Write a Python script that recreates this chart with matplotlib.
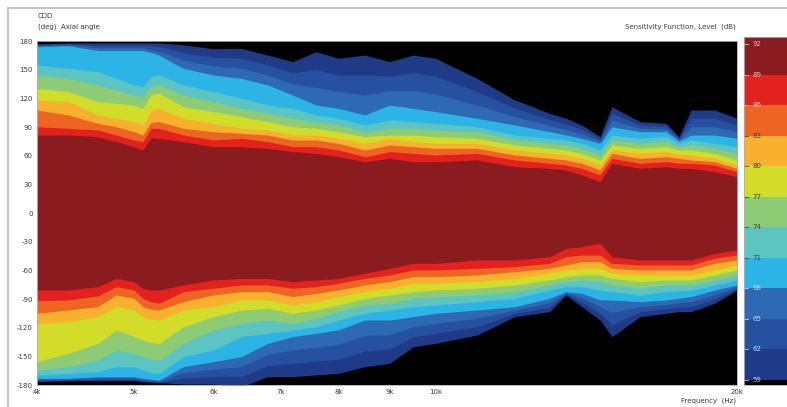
import matplotlib
matplotlib.use("Agg")
import matplotlib.pyplot as plt
import numpy as np
from matplotlib.colors import ListedColormap, BoundaryNorm
from matplotlib.colorbar import ColorbarBase
from matplotlib.lines import Line2D
from matplotlib.ticker import NullLocator
from matplotlib.transforms import blended_transform_factory

# Frequencies (Hz) at which the contour edges were read
FREQ_HZ = [4000, 4300, 4600, 4800, 5000, 5100, 5200, 5300, 5600, 6000, 6400,
           6800, 7200, 7600, 8000, 8500, 9000, 9500, 10000, 11000, 12000,
           13000, 13500, 14000, 14600, 15000, 16000, 17000, 17500, 18000,
           19000, 20000]

# Level (dB) of each contour edge, innermost first
EDGE_DB = [89, 86, 83, 80, 77, 74, 71, 68, 65, 62, 59]

# Positive-angle edge (deg) of each level, one row per frequency
UPPER_DEG = [
    [81.6, 90.3, 107.8, 118.3, 130.5, 144.4, 154.9, 174.0, 175.0, 176.0, 177.0],
    [81.6, 88.6, 102.6, 116.5, 127.0, 140.9, 151.4, 175.0, 176.0, 177.0, 178.0],
    [79.9, 86.9, 93.8, 102.6, 116.5, 134.0, 147.9, 170.0, 173.0, 175.0, 178.0],
    [74.7, 81.6, 90.3, 99.1, 114.8, 128.7, 140.9, 170.0, 173.0, 175.0, 178.0],
    [69.4, 76.4, 85.1, 95.6, 113.0, 123.5, 134.0, 170.0, 173.0, 175.0, 178.0],
    [65.9, 74.7, 81.6, 92.1, 109.5, 121.7, 132.2, 170.0, 173.0, 175.0, 178.0],
    [78.8, 88.6, 94.9, 107.8, 123.5, 132.2, 142.7, 168.0, 171.0, 175.0, 178.0],
    [78.1, 88.6, 95.6, 109.5, 125.2, 134.0, 144.4, 165.0, 169.0, 174.0, 178.0],
    [74.7, 81.6, 88.6, 99.1, 111.3, 123.5, 134.0, 151.4, 160.0, 168.0, 176.0],
    [69.4, 76.4, 85.1, 93.8, 106.1, 116.5, 127.0, 144.4, 154.0, 163.0, 172.0],
    [69.4, 78.1, 83.4, 88.6, 100.8, 109.5, 120.0, 140.9, 151.4, 161.8, 172.3],
    [67.7, 74.7, 81.6, 86.9, 95.6, 104.3, 113.0, 134.0, 144.4, 154.9, 165.3],
    [64.2, 69.4, 76.4, 81.6, 90.3, 99.1, 109.5, 123.5, 135.1, 146.8, 158.4],
    [62.4, 69.4, 76.4, 81.6, 88.6, 95.6, 102.6, 113.0, 131.6, 150.2, 168.8],
    [58.9, 65.9, 72.9, 78.1, 85.1, 92.1, 99.1, 109.5, 127.0, 144.4, 161.9],
    [53.7, 58.9, 65.9, 72.9, 79.9, 85.1, 92.1, 102.6, 123.5, 144.4, 165.3],
    [57.2, 64.2, 71.2, 78.1, 81.6, 88.6, 97.3, 113.0, 128.1, 143.3, 158.4],
    [53.7, 62.4, 69.4, 74.7, 81.6, 88.6, 95.6, 109.5, 128.1, 146.7, 165.3],
    [53.7, 60.7, 67.7, 72.9, 79.9, 86.9, 93.8, 106.1, 124.7, 143.3, 161.9],
    [55.5, 62.4, 67.7, 72.9, 78.1, 85.1, 90.3, 99.1, 113.0, 127.0, 140.9],
    [48.5, 55.5, 60.7, 65.9, 71.2, 76.4, 81.6, 92.1, 100.8, 109.6, 118.3],
    [46.7, 52.0, 57.2, 62.4, 67.7, 72.9, 78.1, 85.1, 91.5, 97.9, 104.3],
    [45.0, 50.2, 55.5, 60.7, 65.9, 71.2, 76.4, 81.6, 87.4, 93.3, 99.1],
    [39.8, 46.7, 52.0, 57.2, 62.4, 67.7, 72.9, 78.1, 82.8, 87.4, 92.1],
    [32.8, 39.8, 45.0, 50.2, 55.5, 60.7, 65.9, 72.9, 75.2, 77.6, 79.9],
    [52.0, 57.2, 62.4, 65.9, 71.2, 76.4, 81.6, 90.3, 97.3, 104.3, 111.3],
    [46.7, 52.0, 57.2, 62.4, 67.7, 72.9, 78.1, 85.1, 88.6, 92.1, 95.6],
    [48.5, 53.7, 58.9, 64.2, 69.4, 74.7, 79.9, 85.1, 88.0, 90.9, 93.8],
    [46.7, 52.0, 57.2, 61.4, 65.9, 69.4, 72.9, 75.3, 76.8, 78.4, 79.9],
    [46.7, 52.0, 55.5, 60.7, 65.9, 71.2, 76.4, 81.6, 90.3, 99.1, 107.8],
    [43.3, 50.2, 53.7, 57.2, 62.4, 67.7, 72.9, 81.6, 90.3, 99.1, 107.8],
    [38.0, 43.3, 46.7, 50.2, 55.5, 62.4, 69.4, 78.1, 85.1, 92.1, 99.1],
]

# Negative-angle edge (deg, magnitude) of each level, one row per frequency
LOWER_DEG = [
    [80.6, 91.7, 105.0, 115.5, 155.6, 164.3, 169.5, 173.0, 174.2, 175.3, 176.5],
    [80.6, 91.0, 101.5, 113.7, 146.8, 160.8, 167.8, 173.0, 173.8, 174.7, 175.5],
    [77.1, 86.9, 98.0, 108.5, 136.4, 153.8, 166.0, 171.3, 172.7, 174.1, 175.5],
    [68.4, 77.1, 85.8, 98.0, 122.4, 143.4, 160.8, 171.3, 172.7, 174.1, 175.5],
    [71.8, 80.6, 89.3, 101.5, 129.4, 146.8, 160.8, 171.3, 172.7, 174.1, 175.5],
    [78.8, 89.3, 98.0, 108.5, 132.9, 150.3, 164.3, 173.0, 174.2, 175.3, 176.5],
    [80.6, 92.8, 100.8, 111.3, 135.7, 153.1, 167.1, 174.1, 175.1, 176.2, 177.2],
    [80.6, 94.5, 101.5, 112.0, 136.4, 153.8, 167.8, 174.8, 175.7, 176.6, 177.5],
    [75.3, 82.3, 92.8, 101.5, 119.0, 136.4, 150.3, 160.8, 166.9, 172.9, 179.0],
    [70.1, 78.8, 85.8, 98.0, 108.5, 122.4, 143.4, 155.6, 163.4, 171.2, 179.0],
    [68.4, 75.3, 82.3, 91.0, 101.5, 115.5, 129.4, 150.3, 160.8, 171.2, 181.7],
    [68.4, 75.3, 82.3, 91.0, 99.8, 112.0, 125.9, 136.4, 148.0, 159.7, 171.3],
    [71.8, 78.8, 87.5, 96.3, 105.0, 115.5, 122.4, 129.4, 143.4, 157.3, 171.3],
    [70.1, 77.1, 84.1, 92.8, 101.5, 110.2, 119.0, 125.9, 140.4, 155.0, 169.5],
    [68.4, 73.6, 80.6, 87.5, 96.3, 103.2, 112.0, 122.4, 137.5, 152.7, 167.8],
    [63.1, 68.4, 75.3, 82.3, 89.3, 96.3, 105.0, 112.0, 128.3, 144.5, 160.8],
    [57.9, 64.9, 71.8, 78.8, 85.8, 94.5, 101.5, 112.0, 127.1, 142.2, 157.3],
    [52.7, 59.6, 66.6, 73.6, 82.3, 89.3, 98.0, 108.5, 119.0, 129.4, 139.9],
    [52.7, 59.6, 66.6, 73.6, 80.6, 87.5, 96.3, 105.0, 115.5, 125.9, 136.4],
    [49.2, 57.9, 64.9, 71.8, 78.8, 85.8, 92.8, 101.5, 110.2, 119.0, 127.7],
    [49.2, 56.2, 61.4, 68.4, 75.3, 82.3, 89.3, 98.0, 101.5, 105.0, 108.5],
    [45.7, 52.7, 57.9, 63.1, 70.1, 75.3, 80.6, 89.3, 93.9, 98.6, 103.2],
    [37.0, 45.7, 54.4, 59.6, 66.6, 71.8, 77.1, 82.3, 83.5, 84.6, 85.8],
    [35.2, 44.0, 51.0, 57.9, 64.9, 70.1, 77.1, 84.1, 88.7, 93.4, 98.0],
    [31.7, 44.0, 51.0, 57.9, 64.9, 71.8, 80.6, 91.0, 98.0, 105.0, 112.0],
    [45.7, 52.7, 57.9, 63.1, 68.4, 75.3, 82.3, 91.0, 103.8, 116.6, 129.4],
    [49.2, 54.4, 59.6, 64.9, 71.8, 78.8, 85.8, 92.8, 98.0, 103.3, 108.5],
    [49.2, 54.4, 59.6, 64.9, 70.1, 75.3, 82.3, 91.0, 95.7, 100.3, 105.0],
    [49.2, 54.4, 59.6, 64.9, 70.1, 75.3, 81.3, 89.3, 93.9, 98.6, 103.2],
    [49.2, 54.4, 59.6, 64.9, 70.1, 75.3, 80.6, 87.5, 92.7, 98.0, 103.2],
    [42.2, 47.4, 52.7, 59.6, 64.9, 70.1, 75.3, 80.6, 85.2, 89.9, 94.5],
    [38.7, 44.0, 49.2, 54.4, 59.6, 64.9, 70.1, 75.3, 77.1, 78.8, 80.6],
]

# Colour of the band just inside each edge (same order as EDGE_DB)
BAND_COLORS = ["#8a1b1e", "#e3221f", "#ee6523", "#f8b02f", "#d2dd2a", "#8dcb74",
               "#5cc5c2", "#2db4e6", "#2e69b3", "#2651a0", "#1f3b88"]

SCALE_TICKS = [92, 89, 86, 83, 80, 77, 74, 71, 68, 65, 62, 59]
X_TICKS = [4000, 5000, 6000, 7000, 8000, 9000, 10000, 20000]
X_LABELS = ["4k", "5k", "6k", "7k", "8k", "9k", "10k", "20k"]
Y_TICKS = list(range(-180, 181, 30))

W, H = 787, 407
TXT = "#3a3a3a"
FS = 5

fig = plt.figure(figsize=(W / 100, H / 100), dpi=100)
fig.patch.set_facecolor("white")

ax = fig.add_axes([37 / W, 22 / H, 700 / W, 344 / H])
ax.set_facecolor("black")

freq = np.array(FREQ_HZ, dtype=float)
upper = np.array(UPPER_DEG)
lower = np.array(LOWER_DEG)
# draw from the outermost band inwards so inner bands sit on top
for k in range(len(EDGE_DB) - 1, -1, -1):
    ax.fill_between(freq, -lower[:, k], upper[:, k], color=BAND_COLORS[k],
                    lw=0, antialiased=True)

ax.set_xscale("log")
ax.set_xlim(4000, 20000)
ax.set_ylim(-180, 180)
ax.set_xticks(X_TICKS)
ax.set_xticklabels(X_LABELS)
ax.xaxis.set_minor_locator(NullLocator())
ax.set_yticks(Y_TICKS)
ax.set_yticklabels([str(v) for v in Y_TICKS])
ax.tick_params(length=0, labelsize=FS, colors=TXT, pad=3)
for s in ax.spines.values():
    s.set_color("#b0b0b0")
    s.set_linewidth(0.6)

# colour scale
cax = fig.add_axes([744 / W, 22 / H, 43 / W, 348 / H])
bounds = [58.5, 59, 62, 65, 68, 71, 74, 77, 80, 83, 86, 89, 92.7]
cmap = ListedColormap(["#000000"] + BAND_COLORS[::-1])
norm = BoundaryNorm(bounds, cmap.N)
cb = ColorbarBase(cax, cmap=cmap, norm=norm, boundaries=bounds,
                  spacing="proportional", orientation="vertical")
cb.outline.set_edgecolor("#b0b0b0")
cb.outline.set_linewidth(0.6)
cax.set_yticks([])
tr = blended_transform_factory(cax.transAxes, cax.transData)
for lv in SCALE_TICKS:
    light = lv >= 86 or lv <= 68
    col = "#e6c4c4" if lv >= 86 else ("#c9d3ea" if light else "#404040")
    cax.plot([0.0, 0.1], [lv, lv], transform=tr, color=col, lw=0.6)
    cax.text(0.2, lv, str(lv), transform=tr, fontsize=FS, color=col,
             va="center", ha="left")

# titles and axis captions
fig.text(38 / W, 1 - 16 / H, "CDD", fontsize=FS, color=TXT, va="center")
fig.text(38 / W, 1 - 27 / H, "(deg)  Axial angle", fontsize=FS, color=TXT,
         va="center")
fig.text(736 / W, 1 - 27 / H, "Sensitivity Function, Level  (dB)", fontsize=FS,
         color=TXT, va="center", ha="right")
fig.text(736 / W, 1 - 401 / H, "Frequency  (Hz)", fontsize=FS, color=TXT,
         va="center", ha="right")

# light frame around the panel
fig.add_artist(Line2D([8 / W, 8 / W], [0, 1 - 8 / H], color="#c4c4c4", lw=1.5))
fig.add_artist(Line2D([8 / W, 1], [1 - 8 / H, 1 - 8 / H], color="#c4c4c4", lw=1.5))

fig.savefig("out.png", dpi=100)
